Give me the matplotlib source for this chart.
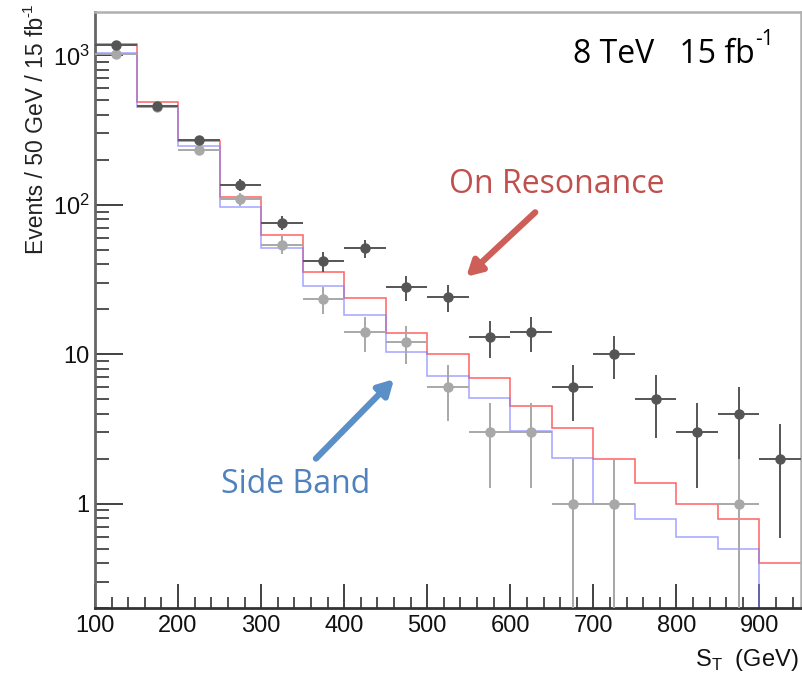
# S_T spectrum: on-resonance vs side-band, ROOT-style log plot

import matplotlib
matplotlib.use("Agg")
import matplotlib.pyplot as plt
import numpy as np
from matplotlib.ticker import FixedLocator, LogLocator, NullFormatter

# bin edges in GeV
bin_edges = np.arange(100, 951, 50)
bin_centers = bin_edges[:-1] + 25

# data points (event counts per 50 GeV bin)
on_res_counts = [1180, 457, 270, 136, 76, 42, 51, 28, 24, 13, 14, 6, 10, 5, 3, 4, 2]
side_band_counts = [1020, 450, 233, 109, 54, 23.5, 14, 12, 6, 3, 3, 1, 1, 0, 0, 1, 0]

# histogram expectations
on_res_hist = [1200, 486, 267, 113, 62.5, 35.4, 23.6, 13.8, 10, 6.9, 4.5, 3.2, 2.0, 1.38, 1.0, 0.79, 0.40]
side_band_hist = [1035, 453, 247, 96.5, 51.4, 28.7, 18.3, 10.3, 7.1, 5.05, 3.04, 2.02, 1.0, 0.79, 0.60, 0.50, 0.0]

x_ticks = [100, 200, 300, 400, 500, 600, 700, 800, 900]
y_ticks = [1, 10, 100, 1000]
y_tick_labels = ["1", "10", "$\\mathregular{10^2}$", "$\\mathregular{10^3}$"]

RED_TEXT = "#c0504d"
BLUE_TEXT = "#4f81bd"

fig = plt.figure(figsize=(8.03, 6.75), dpi=100)
ax = fig.add_axes([0.1183, 0.0993, 0.8792, 0.8829])
ax.set_yscale("log", nonpositive="clip")

# histograms
ax.stairs(on_res_hist, bin_edges, baseline=None, color="#ff3b3b", linewidth=1.1, alpha=0.8, zorder=2)
ax.stairs(side_band_hist, bin_edges, baseline=None, color="#7f7fff", linewidth=1.1, alpha=0.7, zorder=2)


def draw_points(counts, colour, z):
    counts = np.asarray(counts, dtype=float)
    keep = counts > 0
    x = bin_centers[keep]
    y = counts[keep]
    err = np.sqrt(y)
    low = np.where(y - err > 0, err, y * (1 - 1e-6))
    ax.errorbar(
        x, y, xerr=25, yerr=[low, err], fmt="o", color=colour, ecolor=colour,
        markersize=6.5, elinewidth=1.4, capsize=0, zorder=z,
    )
    # points with a count of 1 have error bars that run off the bottom of the axes
    ones = y <= 1
    if ones.any():
        ax.vlines(x[ones], 0.01, y[ones], color=colour, linewidth=1.4, zorder=z)


draw_points(side_band_counts, "#a8a8a8", 3)
draw_points(on_res_counts, "#555555", 4)

ax.set_xlim(100, 950)
ax.set_ylim(0.2, 1950)

# ticks, ROOT style
ax.xaxis.set_major_locator(FixedLocator(x_ticks))
ax.xaxis.set_minor_locator(FixedLocator(np.arange(120, 950, 20)))
ax.yaxis.set_major_locator(FixedLocator(y_ticks))
ax.yaxis.set_minor_locator(LogLocator(base=10, subs=np.arange(2, 10)))
ax.yaxis.set_minor_formatter(NullFormatter())
ax.set_yticklabels(y_tick_labels)
ax.tick_params(axis="both", which="both", direction="in", top=False, right=False,
               color="#333333", labelsize=17, labelcolor="#111111")
ax.tick_params(axis="x", which="major", length=17, width=1.3, pad=5)
ax.tick_params(axis="x", which="minor", length=8, width=1.2)
ax.tick_params(axis="y", which="major", length=20, width=1.3, pad=4)
ax.tick_params(axis="y", which="minor", length=10, width=1.2)
for lbl in ax.get_xticklabels() + ax.get_yticklabels():
    lbl.set_family("Liberation Sans")

ax.spines["left"].set_color("#666666")
ax.spines["left"].set_linewidth(2)
ax.spines["bottom"].set_color("#333333")
ax.spines["bottom"].set_linewidth(2)
for side in ["top", "right"]:
    ax.spines[side].set_color("#b0b0b0")
    ax.spines[side].set_linewidth(1.8)

# axis titles (superscripts drawn as separate small text so they keep a plain hyphen)
ylab = fig.text(0.045, 0.975, "Events / 50 GeV / 15 fb", rotation=90, ha="center", va="top",
                fontsize=16.5, family="Liberation Sans", color="#222222")
fig.text(0.0, 0.0, "")
ax.annotate("-1", xy=(0.45, 1.0), xycoords=ylab, rotation=90, ha="right", va="bottom",
            fontsize=11, family="Liberation Sans", color="#222222")
fig.text(0.994, 0.022, "S$_\\mathregular{T}$  (GeV)", ha="right", va="center",
         fontsize=17, family="Liberation Sans", color="#111111")

# annotations
lumi = ax.text(0.935, 0.915, "8 TeV   15 fb", transform=ax.transAxes, ha="right",
               va="baseline", fontsize=23, family="Open Sans", color="black")
ax.annotate("-1", xy=(1.0, 0.62), xycoords=lumi, ha="left", va="bottom",
            fontsize=15, family="Open Sans", color="black")
ax.text(656, 137, "On Resonance", ha="center", va="center", fontsize=23,
        family="Open Sans", color=RED_TEXT)
ax.text(342, 1.35, "Side Band", ha="center", va="center", fontsize=23,
        family="Open Sans", color=BLUE_TEXT)

ax.annotate("", xy=(547, 33), xytext=(630, 89),
            arrowprops=dict(arrowstyle="-|>,head_length=0.9,head_width=0.5", color="#cd5f58",
                            linewidth=4.5, shrinkA=0, shrinkB=0))
ax.annotate("", xy=(460, 6.8), xytext=(366, 2.0),
            arrowprops=dict(arrowstyle="-|>,head_length=0.9,head_width=0.5", color="#5b8fc8",
                            linewidth=4.5, shrinkA=0, shrinkB=0))

fig.savefig("out.png", dpi=100)
